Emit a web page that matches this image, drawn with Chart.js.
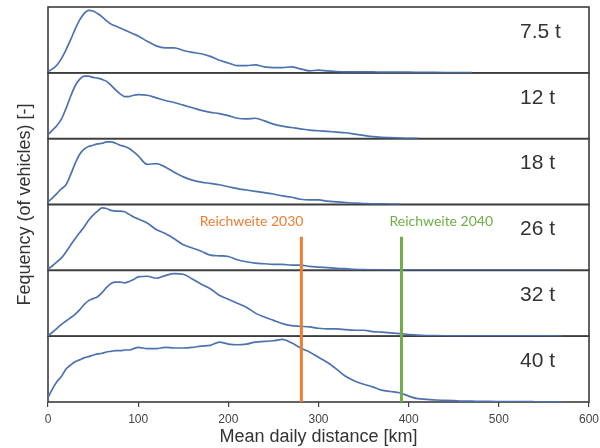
<!DOCTYPE html>
<html>
<head>
<meta charset="utf-8">
<script src="https://cdn.jsdelivr.net/npm/chart.js@4.4.1/dist/chart.umd.min.js"></script>
<style>
    html, body { margin: 0; padding: 0; background: #fff; }
</style>
</head>
<body>
<canvas id="chart-ridge" width="600" height="448"></canvas>
<script>
// distance grid [km], finer steps where the curves rise
var distances = [0, 5, 10, 15, 20, 25, 30, 35, 40, 45, 50, 55, 60, 65, 70, 75, 80, 85, 90, 95, 100,
    110, 120, 130, 140, 150, 160, 170, 180, 190, 200,
    210, 220, 230, 240, 250, 260, 270, 280, 290, 300,
    310, 320, 330, 340, 350, 360, 370, 380, 390, 400,
    410, 420, 430, 440, 450, 460, 470, 480, 490, 500,
    510, 520, 530, 540, 550, 560, 570, 580, 590, 600];

// relative frequency per weight class (% of panel height)
var freq75 = [2, 6, 12, 22, 35, 50, 66, 80, 90, 95, 94, 90, 85, 79, 74, 71, 68, 65, 62, 59, 56,
    48, 41, 38, 38, 34, 31, 29, 25, 19, 15,
    11, 11, 12, 9, 8, 8, 9, 6, 3, 4,
    3, 2, 1.5, 1.5, 1.5, 1.5, 1, 1, 1, 1,
    0.8, 0.7, 0.6, 0.5, 0.4, 0.3, 0.2];
var freq12 = [6, 13, 20, 30, 46, 64, 80, 90, 95, 95, 93, 92, 90, 87, 81, 74, 68, 64, 64, 66, 67,
    66, 62, 58, 55, 51, 47, 43, 40, 38, 35,
    31, 30, 31, 27, 22, 19, 17, 15, 13, 12,
    11, 10, 9, 7, 5, 3, 2, 1.5, 1, 0.5,
    0.3];
var freq18 = [4, 10, 17, 24, 30, 45, 62, 76, 84, 88, 90, 92, 93, 95, 95, 93, 90, 88, 85, 80, 74,
    61, 62, 57, 49, 42, 37, 34, 32, 30, 27,
    24, 22, 20, 18, 16, 13, 11, 8, 7, 7,
    5, 4, 3, 2, 1.5, 1, 1, 0.5, 0.3];
var freq26 = [2, 7, 13, 19, 28, 38, 48, 57, 66, 76, 84, 90, 95, 94, 91, 90, 90, 89, 85, 81, 78,
    72, 62, 56, 48, 39, 34, 29, 23, 22, 21,
    16, 13, 11, 10, 9, 9, 8, 8, 6, 5,
    4, 3, 2.5, 1.5, 1, 0.8, 0.6, 0.5, 0.4, 0.4,
    0.3, 0.3, 0.3, 0.3, 0.3, 0.3, 0.3, 0.3, 0.3, 0.3,
    0.3, 0.3, 0.3, 0.3, 0.3, 0.3, 0.2];
var freq32 = [1, 6, 12, 18, 23, 28, 33, 40, 48, 54, 57, 60, 66, 74, 80, 82, 82, 81, 83, 86, 90,
    91, 88, 92, 95, 94, 87, 79, 72, 62, 56,
    50, 44, 35, 29, 24, 19, 16, 15, 14, 12,
    11, 11, 10, 9, 9, 7, 6, 5, 4, 2.5,
    1.5, 1, 0.8, 0.6, 0.4, 0.3, 0.3, 0.3, 0.3, 0.3,
    0.3, 0.3, 0.3, 0.3, 0.3, 0.3, 0.2];
var freq40 = [7, 20, 31, 39, 50, 56, 61, 64, 67, 69, 71, 73, 74, 76, 77, 78, 78, 79, 79, 81, 83,
    81, 81, 83, 82, 82, 83, 85, 86, 91, 88,
    87, 88, 91, 92, 93, 95, 90, 82, 76, 68,
    60, 50, 39, 32, 27, 23, 18, 16, 14, 9,
    5, 4, 3, 2.5, 2, 1.5, 1.3, 1, 0.8, 0.7,
    0.6, 0.5, 0.5, 0.4, 0.3, 0.3, 0.2];

var panelNames = ['7.5 t', '12 t', '18 t', '26 t', '32 t', '40 t'];
var panelIds = ['p75', 'p12', 'p18', 'p26', 'p32', 'p40'];
var series = [freq75, freq12, freq18, freq26, freq32, freq40];

var reachLabels = ['Reichweite 2030', 'Reichweite 2040'];
var reachKm = [281, 392];
var reachColors = ['#ed7d31', '#70ad47'];

var fontMain = '"Liberation Sans", Arial, sans-serif';
Chart.defaults.font.family = fontMain;

function toPoints(vals) {
    return vals.map((v, i) => ({ x: distances[i], y: v }));
}

var ridgeDecor = {
    id: 'ridgeDecor',
    beforeDatasetsDraw(chart) {
        let ctx = chart.ctx, area = chart.chartArea;
        ctx.save();
        ctx.strokeStyle = '#3d3d3d';
        ctx.lineWidth = 1.6;
        panelIds.forEach(id => {
            let s = chart.scales[id];
            ctx.strokeRect(area.left, s.top, area.right - area.left, s.bottom - s.top);
        });
        ctx.restore();
    },
    afterDatasetsDraw(chart) {
        let ctx = chart.ctx, area = chart.chartArea;
        let xs = chart.scales.x;
        let topY = chart.scales.p26.getPixelForValue(51);
        ctx.save();

        // range markers
        reachKm.forEach((km, i) => {
            let px = xs.getPixelForValue(km);
            ctx.strokeStyle = reachColors[i];
            ctx.lineWidth = 3;
            ctx.beginPath();
            ctx.moveTo(px, topY);
            ctx.lineTo(px, area.bottom);
            ctx.stroke();

            ctx.fillStyle = reachColors[i];
            ctx.font = '14px Lato, "Open Sans", sans-serif';
            ctx.textBaseline = 'middle';
            ctx.textAlign = i == 0 ? 'right' : 'left';
            ctx.fillText(reachLabels[i], i == 0 ? px + 2 : px - 12, topY - 15);
        });

        // weight class labels
        ctx.fillStyle = '#333';
        ctx.font = '21px ' + fontMain;
        ctx.textAlign = 'left';
        ctx.textBaseline = 'middle';
        panelIds.forEach((id, i) => {
            let s = chart.scales[id];
            ctx.fillText(panelNames[i], area.right - 69, s.top + (s.bottom - s.top) * 0.38);
        });

        // shared y title
        ctx.translate(25, (area.top + area.bottom) / 2);
        ctx.rotate(-Math.PI / 2);
        ctx.font = '18px ' + fontMain;
        ctx.textAlign = 'center';
        ctx.fillText('Fequency (of vehicles) [-]', 0, 0);
        ctx.restore();
    }
};

function panelScale() {
    return {
        type: 'linear',
        position: 'left',
        stack: 'ridge',
        stackWeight: 1,
        min: 0,
        max: 100,
        ticks: { display: false },
        grid: { display: false, drawTicks: false },
        border: { display: false },
        afterFit: s => { s.width = 0; }
    };
}

var scales = {
    x: {
        type: 'linear',
        min: 0,
        max: 600,
        ticks: { stepSize: 100, color: '#444', font: { size: 12 }, padding: 5 },
        grid: { display: true, drawOnChartArea: false, drawTicks: true, tickLength: 5, color: '#444', lineWidth: 1.2 },
        border: { display: false },
        title: { display: true, text: 'Mean daily distance [km]', color: '#333', font: { size: 18 }, padding: { top: 0, bottom: 0 } },
        afterFit: s => {
            s.height = 46;
            s.paddingLeft = 0;
            s.paddingRight = 0;
        }
    }
};
// stacked axes are laid out bottom-up, so add the heaviest class first
panelIds.slice().reverse().forEach(id => { scales[id] = panelScale(); });

var ctx = document.getElementById('chart-ridge').getContext('2d');
new Chart(ctx, {
    type: 'line',
    data: {
        datasets: series.map((vals, i) => ({
            label: panelNames[i],
            data: toPoints(vals),
            yAxisID: panelIds[i],
            borderColor: '#4c72b0',
            borderWidth: 1.7,
            pointRadius: 0,
            cubicInterpolationMode: 'monotone',
            fill: false
        }))
    },
    options: {
        responsive: false,
        animation: false,
        layout: { autoPadding: false, padding: { left: 48, right: 11, top: 7, bottom: 0 } },
        plugins: {
            legend: { display: false },
            tooltip: { enabled: false }
        },
        scales: scales
    },
    plugins: [ridgeDecor]
});
</script>
</body>
</html>
